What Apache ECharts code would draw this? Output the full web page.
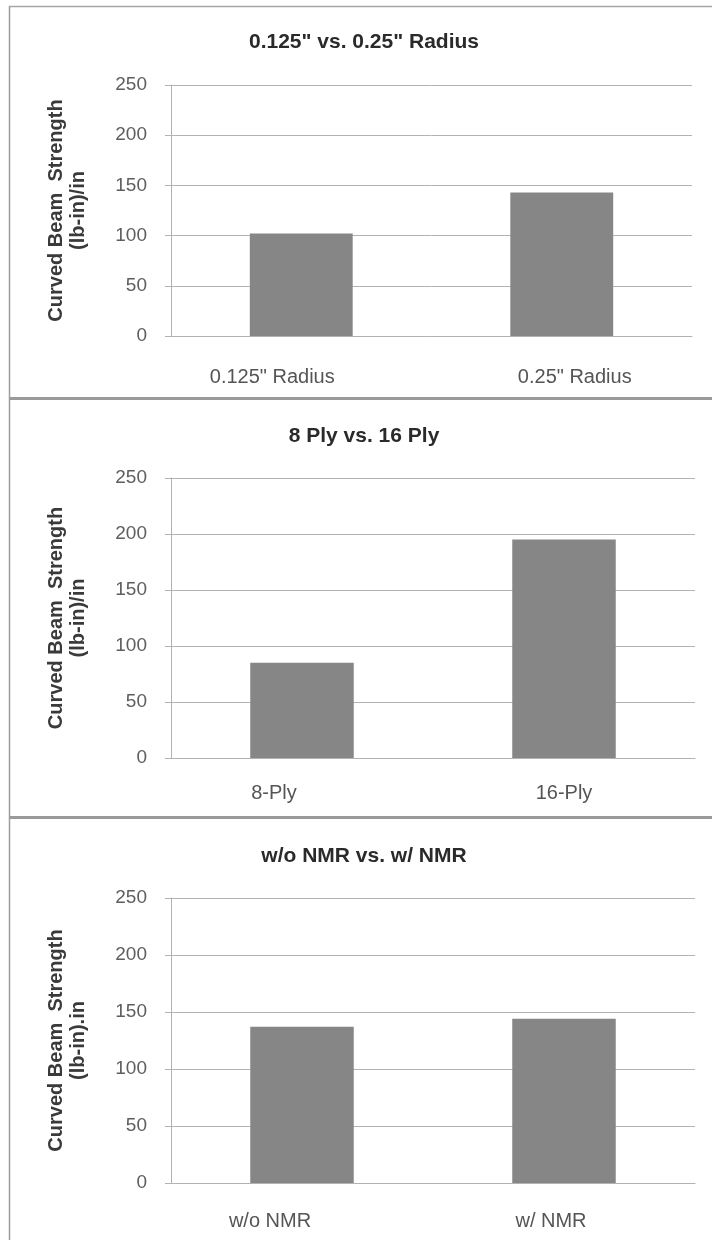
<!DOCTYPE html>
<html>
<head>
<meta charset="utf-8">
<script src="https://cdn.jsdelivr.net/npm/echarts@6/dist/echarts.min.js"></script>
<style>
  html, body { margin: 0; padding: 0; background: #ffffff; }
  #chart { width: 712px; height: 1240px; }
</style>
</head>
<body>
<div id="chart"></div>
<script>
// ---- data ----
const radiusCategories = ['0.125" Radius', '0.25" Radius'];
const radiusValues = [102, 143];

const plyCategories = ['8-Ply', '16-Ply'];
const plyValues = [85, 195];

const nmrCategories = ['w/o NMR', 'w/ NMR'];
const nmrValues = [137, 144];

const panelTitles = ['0.125" vs. 0.25" Radius', '8 Ply vs. 16 Ply', 'w/o NMR vs. w/ NMR'];
const yAxisTitles = [
  'Curved Beam  Strength\n(lb-in)/in',
  'Curved Beam  Strength\n(lb-in)/in',
  'Curved Beam  Strength\n(lb-in).in'
];
const yMin = 0, yMax = 250, yStep = 50;

// ---- layout of the three stacked panels ----
const panels = [
  { cats: radiusCategories, vals: radiusValues, gridTop: 85,  gridBottom: 904, right: 20, titleTop: 27,  labelMargin: 31, shift: [-29, 13] },
  { cats: plyCategories,    vals: plyValues,    gridTop: 478, gridBottom: 482, right: 17, titleTop: 421, labelMargin: 25, shift: [-28, 0] },
  { cats: nmrCategories,    vals: nmrValues,    gridTop: 898, gridBottom: 57,  right: 17, titleTop: 841, labelMargin: 28, shift: [-32, -13] }
];

const gridColor = '#b3b3b3';
const barColor = '#868686';
const fontFamily = "'Liberation Sans', Arial, sans-serif";

// horizontal nudge of a category label via asymmetric padding
function shiftedLabel(name, dx) {
  const pad = dx < 0 ? [0, -2 * dx, 0, 0] : [0, 0, 0, 2 * dx];
  return { value: name, textStyle: { padding: pad } };
}

const option = {
  backgroundColor: '#ffffff',
  animation: false,
  title: panels.map((p, i) => ({
    text: panelTitles[i],
    left: 359,
    textAlign: 'center',
    top: p.titleTop,
    textStyle: { fontFamily, fontSize: 21, fontWeight: 'bold', color: '#2a2a2a' }
  })),
  grid: panels.map(p => ({
    left: 171, right: p.right, top: p.gridTop, bottom: p.gridBottom, containLabel: false
  })),
  xAxis: panels.map((p, i) => ({
    type: 'category',
    gridIndex: i,
    data: p.cats.map((c, k) => shiftedLabel(c, p.shift[k])),
    axisLine: { show: true, lineStyle: { color: gridColor, width: 1 } },
    axisTick: { show: false },
    axisLabel: { margin: p.labelMargin, fontFamily, fontSize: 20, color: '#555555' }
  })),
  yAxis: panels.map((p, i) => ({
    type: 'value',
    gridIndex: i,
    min: yMin, max: yMax, interval: yStep,
    name: yAxisTitles[i],
    nameLocation: 'middle',
    nameGap: 82,
    nameTextStyle: { fontFamily, fontSize: 20, fontWeight: 'bold', color: '#3a3a3a', lineHeight: 22 },
    axisLine: { show: true, lineStyle: { color: gridColor, width: 1 } },
    axisTick: { show: true, length: 6, lineStyle: { color: gridColor } },
    axisLabel: { margin: 24, fontFamily, fontSize: 19, color: '#5e5e5e' },
    splitLine: { show: true, lineStyle: { color: gridColor, width: 1 } }
  })),
  series: panels.map((p, i) => ({
    type: 'bar',
    xAxisIndex: i,
    yAxisIndex: i,
    data: p.vals,
    barWidth: '39.5%',
    itemStyle: { color: barColor }
  })),
  graphic: [
    // frame around the stacked panels
    { type: 'line', silent: true, shape: { x1: 9, y1: 6.5, x2: 712, y2: 6.5 }, style: { stroke: '#a6a6a6', lineWidth: 1.5 } },
    { type: 'line', silent: true, shape: { x1: 9.5, y1: 6, x2: 9.5, y2: 1240 }, style: { stroke: '#9c9c9c', lineWidth: 1.5 } },
    { type: 'line', silent: true, shape: { x1: 9, y1: 398.5, x2: 712, y2: 398.5 }, style: { stroke: '#9a9a9a', lineWidth: 3 } },
    { type: 'line', silent: true, shape: { x1: 9, y1: 817.5, x2: 712, y2: 817.5 }, style: { stroke: '#9a9a9a', lineWidth: 3 } }
  ]
};

const chart = echarts.init(document.getElementById('chart'), null, { renderer: 'canvas' });
chart.setOption(option);
</script>
</body>
</html>
